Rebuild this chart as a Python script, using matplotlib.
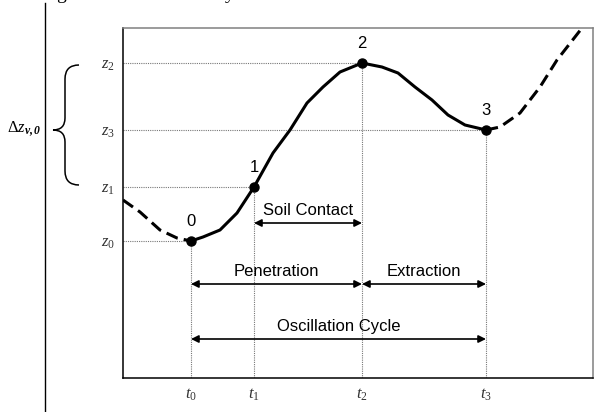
import numpy as np
import matplotlib
matplotlib.use("Agg")
import matplotlib.pyplot as plt
from matplotlib.path import Path
from matplotlib.patches import PathPatch

plt.rcParams["font.family"] = ["Liberation Sans", "DejaVu Sans"]
plt.rcParams["mathtext.fontset"] = "custom"
plt.rcParams["mathtext.rm"] = "Liberation Serif"
plt.rcParams["mathtext.it"] = "Liberation Serif:italic"
plt.rcParams["mathtext.bf"] = "Liberation Serif:bold"
plt.rcParams["mathtext.bfit"] = "Liberation Serif:italic:bold"

# characteristic points of the cycle (time, displacement)
t_pts = [0.68, 1.31, 2.39, 3.63]
z_pts = [1.37, 1.91, 3.15, 2.48]
pt_labels = ["0", "1", "2", "3"]
t_labels = [r"$t_{\mathit{0}}$", r"$t_{\mathit{1}}$", r"$t_{\mathit{2}}$", r"$t_{\mathit{3}}$"]
z_labels = [r"$z_{\mathit{0}}$", r"$z_{\mathit{1}}$", r"$z_{\mathit{2}}$", r"$z_{\mathit{3}}$"]

# curve
lead_t = [0.00, 0.17, 0.37, 0.54, 0.68]
lead_z = [1.78, 1.66, 1.48, 1.40, 1.37]
cycle_t = [0.68, 0.80, 0.97, 1.14, 1.31, 1.50, 1.67, 1.84, 2.00, 2.17, 2.39,
           2.59, 2.75, 2.92, 3.09, 3.25, 3.42, 3.63]
cycle_z = [1.37, 1.41, 1.48, 1.65, 1.91, 2.25, 2.48, 2.75, 2.91, 3.06, 3.15,
           3.11, 3.05, 2.91, 2.78, 2.63, 2.53, 2.48]
tail_t = [3.63, 3.77, 3.97, 4.17, 4.34, 4.59]
tail_z = [2.48, 2.51, 2.65, 2.91, 3.18, 3.50]

# phase spans: (start index, end index, level, text)
spans = [(1, 2, 1.55, "Soil Contact"),
         (0, 2, 0.94, "Penetration"),
         (2, 3, 0.94, "Extraction"),
         (0, 3, 0.39, "Oscillation Cycle")]

fig = plt.figure(figsize=(5.95, 4.12), dpi=100)
ax = fig.add_axes([123 / 595, 34 / 412, 470 / 595, 350 / 412])
ax.set_xlim(0, 4.70)
ax.set_ylim(0, 3.50)

grid_kw = dict(color="#777777", lw=0.8, ls=(0, (1, 1)), zorder=1)
for t, z in zip(t_pts, z_pts):
    ax.plot([0, t], [z, z], **grid_kw)
    ax.plot([t, t], [0, z], **grid_kw)

line_kw = dict(color="black", lw=2.2, zorder=3, solid_joinstyle="round",
               dash_joinstyle="round")
ax.plot(lead_t, lead_z, ls=(0, (4, 2)), **line_kw)
ax.plot(tail_t, tail_z, ls=(0, (4, 2)), **line_kw)
ax.plot(cycle_t, cycle_z, **line_kw)
ax.plot(t_pts, z_pts, "o", color="black", ms=6.5, zorder=4)

for t, z, s in zip(t_pts, z_pts, pt_labels):
    ax.text(t, z + 0.12, s, ha="center", va="bottom", fontsize=12)

for i0, i1, lev, s in spans:
    ax.annotate("", xy=(t_pts[i1], lev), xytext=(t_pts[i0], lev),
                arrowprops=dict(arrowstyle="<|-|>", color="black", lw=1.2,
                                mutation_scale=11, shrinkA=0, shrinkB=0))
    ax.text((t_pts[i0] + t_pts[i1]) / 2, lev + 0.05, s, ha="center",
            va="bottom", fontsize=12)

ax.set_xticks(t_pts)
ax.set_xticklabels(t_labels, fontsize=12, color="#333333")
ax.set_yticks(z_pts)
ax.set_yticklabels(z_labels, fontsize=12, color="#333333")
ax.tick_params(length=0)
ax.tick_params(axis="x", pad=6)
ax.tick_params(axis="y", pad=6)
for side in ["left", "bottom"]:
    ax.spines[side].set_color("black")
    ax.spines[side].set_linewidth(1.1)
for side in ["top", "right"]:
    ax.spines[side].set_color("#808080")
    ax.spines[side].set_linewidth(1.1)

# overlay in pixel units for the brace and margin line
ov = fig.add_axes([0, 0, 1, 1], facecolor="none")
ov.set_xlim(0, 595)
ov.set_ylim(412, 0)
ov.axis("off")
ov.plot([45, 45], [3, 412], color="black", lw=1.0)

verts = [(79, 65), (65, 65), (65, 79), (65, 118), (65, 130), (53, 130),
         (65, 130), (65, 142), (65, 171), (65, 185), (79, 185)]
codes = [Path.MOVETO, Path.CURVE3, Path.CURVE3, Path.LINETO, Path.CURVE3,
         Path.CURVE3, Path.CURVE3, Path.CURVE3, Path.LINETO, Path.CURVE3,
         Path.CURVE3]
ov.add_patch(PathPatch(Path(verts, codes), fill=False, lw=1.1, color="black"))
ov.text(42, 129, r"$\Delta z_{\mathbfit{v,0}}$", ha="right", va="center",
        fontsize=12)

# clipped caption fragments at the top edge
ov.text(61, -1, "g", ha="center", va="baseline", fontsize=14,
        family="Liberation Serif")
ov.text(230, -1, "y", ha="center", va="baseline", fontsize=14,
        family="Liberation Serif")

fig.savefig("out.png", dpi=100)
